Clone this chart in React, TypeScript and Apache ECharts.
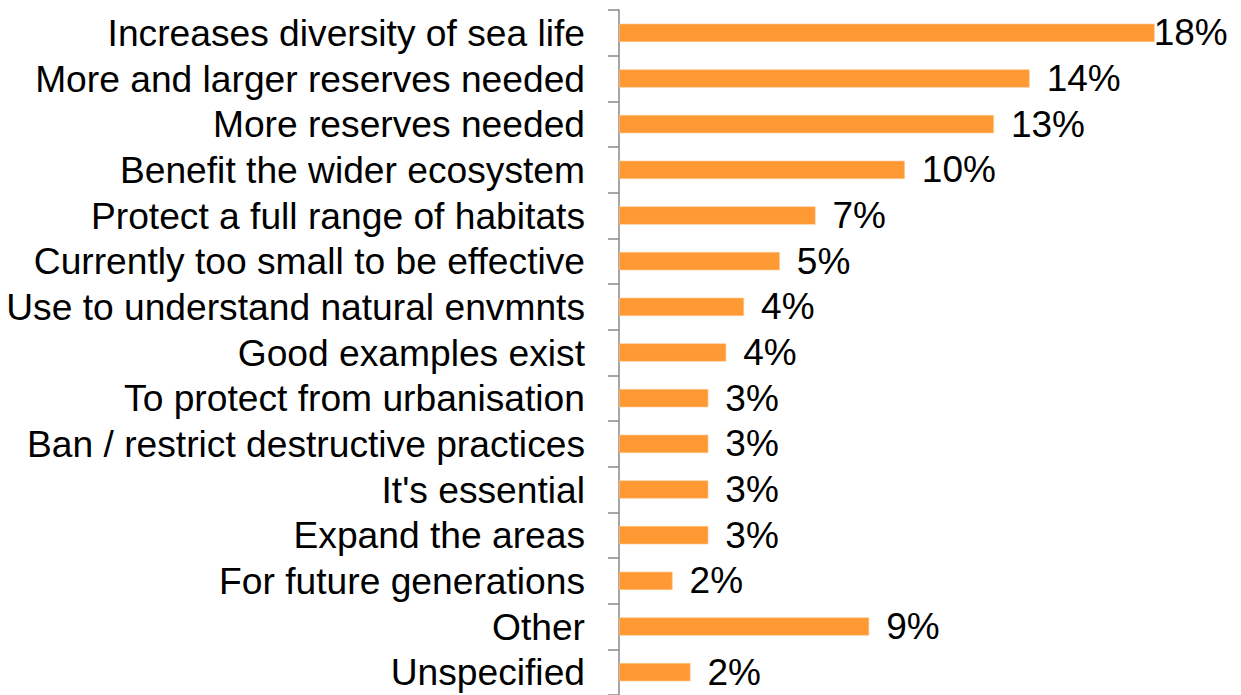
import React, { useEffect, useRef } from "react";
import * as echarts from "echarts";

const categories: string[] = [
  "Increases diversity of sea life",
  "More and larger reserves needed",
  "More reserves needed",
  "Benefit the wider ecosystem",
  "Protect a full range of habitats",
  "Currently too small to be effective",
  "Use to understand natural envmnts",
  "Good examples exist",
  "To protect from urbanisation",
  "Ban / restrict destructive practices",
  "It's essential",
  "Expand the areas",
  "For future generations",
  "Other",
  "Unspecified",
];

const percentValues: number[] = [
  18.29, 14.02, 12.8, 9.76, 6.71, 5.49, 4.27, 3.66, 3.05, 3.05, 3.05, 3.05, 1.83,
  8.54, 2.44,
];

const valueLabels: string[] = [
  "18%", "14%", "13%", "10%", "7%", "5%", "4%", "4%", "3%", "3%", "3%", "3%", "2%",
  "9%", "2%",
];

const FONT = "'Liberation Sans', Arial, sans-serif";
const BAR_COLOR = "#FF9933";
const AXIS_COLOR = "#888888";

export default function App() {
  const ref = useRef<HTMLDivElement>(null);

  useEffect(() => {
    if (!ref.current) return;
    const chart = echarts.init(ref.current, null, { renderer: "svg" });
    const data = percentValues.map((v, i) => ({
      value: v,
      label: i === 0 ? { distance: -1 } : undefined,
    }));
    chart.setOption({
      animation: false,
      backgroundColor: "#ffffff",
      grid: { left: 619, top: 10, width: 585.8, height: 685.7, containLabel: false },
      xAxis: {
        type: "value",
        min: 0,
        max: 20,
        show: false,
      },
      yAxis: {
        type: "category",
        data: categories,
        inverse: true,
        axisLine: { show: true, lineStyle: { color: AXIS_COLOR, width: 1.5 } },
        axisTick: {
          show: true,
          inside: false,
          length: 11,
          interval: 0,
          alignWithLabel: false,
          lineStyle: { color: AXIS_COLOR, width: 1.5 },
        },
        axisLabel: {
          interval: 0,
          margin: 34,
          color: "#000000",
          fontSize: 37.2,
          fontFamily: FONT,
        },
        splitLine: { show: false },
      },
      series: [
        {
          type: "bar",
          data,
          barWidth: "40%",
          itemStyle: { color: BAR_COLOR, borderColor: "#FFC890", borderWidth: 0.6 },
          label: {
            show: true,
            position: "right",
            distance: 17,
            color: "#000000",
            fontSize: 37,
            fontFamily: FONT,
            formatter: (p: any) => valueLabels[p.dataIndex],
          },
        },
      ],
    });
    return () => chart.dispose();
  }, []);

  return (
    <div
      ref={ref}
      style={{ position: "absolute", left: 0, top: 0, width: 1241, height: 695 }}
    />
  );
}
